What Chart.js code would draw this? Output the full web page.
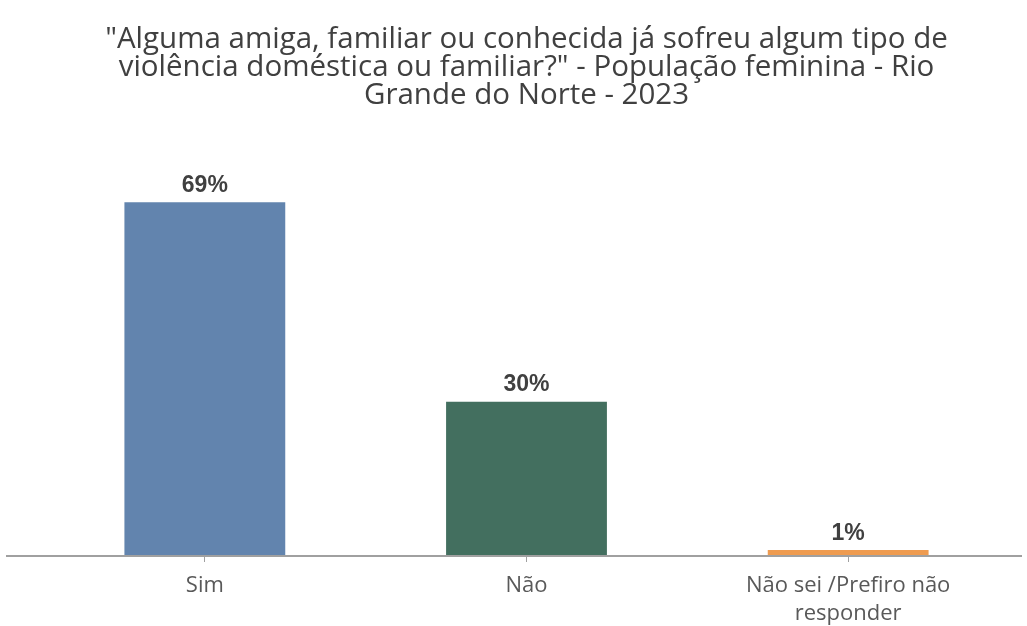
<!DOCTYPE html>
<html>
<head>
<meta charset="utf-8">
<script src="https://cdn.jsdelivr.net/npm/chart.js@4.4.0/dist/chart.umd.min.js"></script>
<style>
  html, body { margin: 0; padding: 0; background: #fff; }
  #wrap { width: 1027px; height: 626px; }
</style>
</head>
<body>
<div id="wrap"><canvas id="grafico"></canvas></div>
<script>
var categorias = ["Sim", "Não", ["Não sei /Prefiro não", "responder"]];
var valores = [69, 30, 1];
var cores = ["#6284AE", "#436F5F", "#EE9B50"];
var titulo = [
  "\"Alguma amiga, familiar ou conhecida já sofreu algum tipo de",
  "violência doméstica ou familiar?\" - População feminina - Rio",
  "Grande do Norte - 2023"
];

// rótulos de porcentagem em cima das barras
var rotulos = {
  id: 'rotulos',
  afterDatasetsDraw: function (chart) {
    var ctx = chart.ctx;
    var meta = chart.getDatasetMeta(0);
    ctx.save();
    ctx.font = "bold 23px 'Liberation Sans', Arial, sans-serif";
    ctx.fillStyle = "#404040";
    ctx.textAlign = "center";
    ctx.textBaseline = "bottom";
    meta.data.forEach(function (bar, i) {
      ctx.fillText(valores[i] + "%", bar.x, bar.y - 5);
    });
    ctx.restore();
  }
};

// linha do eixo um pouco mais comprida que a área do gráfico
var eixo = {
  id: 'eixo',
  beforeDatasetsDraw: function (chart) {
    var ctx = chart.ctx;
    var y = chart.chartArea.bottom + 1;
    ctx.save();
    ctx.strokeStyle = "#A0A0A0";
    ctx.lineWidth = 2;
    ctx.beginPath();
    ctx.moveTo(6, y);
    ctx.lineTo(1022, y);
    ctx.stroke();
    ctx.restore();
  }
};

var ctx = document.getElementById("grafico");
var grafico = new Chart(ctx, {
  type: 'bar',
  data: {
    labels: categorias,
    datasets: [{
      data: valores,
      backgroundColor: cores,
      barPercentage: 0.5,
      categoryPercentage: 1.0
    }]
  },
  options: {
    responsive: true,
    maintainAspectRatio: false,
    animation: false,
    layout: { padding: { left: 44, right: 18, top: 26, bottom: -11 } },
    plugins: {
      legend: { display: false },
      tooltip: { enabled: false },
      title: {
        display: true,
        text: titulo,
        color: "#404040",
        font: { family: "'Open Sans', sans-serif", size: 29.5, weight: 'normal', lineHeight: 0.94 },
        padding: { top: 0, bottom: 20 }
      }
    },
    scales: {
      x: {
        grid: { display: true, offset: false, drawOnChartArea: false, drawTicks: true, tickLength: 7, color: "#A0A0A0", lineWidth: 1 },
        border: { display: false },
        ticks: {
          color: "#595959",
          font: { family: "'Open Sans', sans-serif", size: 22, lineHeight: 1.25 },
          padding: 10,
          maxRotation: 0
        }
      },
      y: {
        display: false,
        min: 0,
        max: 83.3
      }
    }
  },
  plugins: [rotulos, eixo]
});
</script>
</body>
</html>
